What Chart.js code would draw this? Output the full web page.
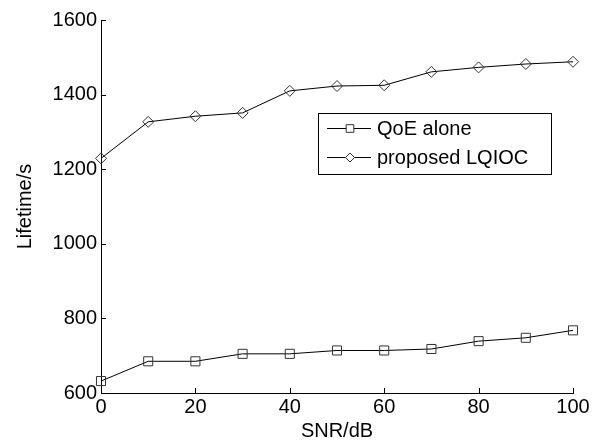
<!DOCTYPE html>
<html>
<head>
<meta charset="utf-8">
<script src="https://cdn.jsdelivr.net/npm/chart.js@4.4.1/dist/chart.umd.min.js"></script>
<style>
  html, body { margin: 0; padding: 0; background: #fff; }
</style>
</head>
<body>
<canvas id="chart" width="599" height="443"></canvas>
<script>
// values
const snr = [0, 10, 20, 30, 40, 50, 60, 70, 80, 90, 100];
const qoeAlone = [632, 685, 685, 705, 705, 714, 714, 718, 739, 748, 768];
const proposedLqioc = [1229, 1327, 1342, 1351, 1410, 1423, 1425, 1461, 1473, 1482, 1488];
const xTicks = [0, 20, 40, 60, 80, 100];
const yTicks = [600, 800, 1000, 1200, 1400, 1600];
const seriesNames = ["QoE alone", "proposed LQIOC"];

const FONT = "'Liberation Sans', Arial, sans-serif";

const toPoints = (values) => values.map((v, i) => ({x: snr[i], y: v}));

// matlab-style ticks pointing into the plot
const inwardTicks = {
  id: "inwardTicks",
  afterDatasetsDraw(chart) {
    const {ctx, chartArea, scales: {x, y}} = chart;
    ctx.save();
    ctx.strokeStyle = "#000";
    ctx.lineWidth = 1;
    ctx.beginPath();
    yTicks.forEach(v => {
      const py = Math.round(y.getPixelForValue(v)) + 0.5;
      ctx.moveTo(chartArea.left, py);
      ctx.lineTo(chartArea.left + 5, py);
    });
    xTicks.forEach(v => {
      const px = Math.round(x.getPixelForValue(v)) + 0.5;
      ctx.moveTo(px, chartArea.bottom);
      ctx.lineTo(px, chartArea.bottom - 5);
    });
    ctx.stroke();
    ctx.restore();
  }
};

// boxed legend sitting inside the plot
const boxLegend = {
  id: "boxLegend",
  afterDraw(chart) {
    const {ctx, chartArea} = chart;
    const left = chartArea.left + 217;
    const top = chartArea.top + 93;
    const w = 233, h = 61;
    ctx.save();
    ctx.fillStyle = "#fff";
    ctx.fillRect(left, top, w, h);
    ctx.strokeStyle = "#000";
    ctx.lineWidth = 1;
    ctx.strokeRect(left + 0.5, top + 0.5, w, h);
    chart.data.datasets.forEach((ds, i) => {
      const cy = top + 15 + i * 29;
      ctx.strokeStyle = ds.borderColor;
      ctx.lineWidth = 1;
      ctx.beginPath();
      ctx.moveTo(left + 9, cy + 0.5);
      ctx.lineTo(left + 53, cy + 0.5);
      ctx.stroke();
      ctx.strokeStyle = ds.pointBorderColor;
      ctx.fillStyle = "#fff";
      Chart.helpers.drawPoint(ctx, {
        pointStyle: ds.pointStyle,
        radius: ds.pointRadius - 1,
        borderWidth: 1,
        rotation: 0
      }, left + 32, cy + 0.5);
      ctx.fillStyle = "#000";
      ctx.font = "20px " + FONT;
      ctx.textBaseline = "middle";
      ctx.fillText(ds.label, left + 59, cy + 1);
    });
    ctx.restore();
  }
};

const config = {
  type: "line",
  data: {
    datasets: [{
      label: seriesNames[0],
      data: toPoints(qoeAlone),
      borderColor: "#000",
      borderWidth: 1,
      pointStyle: "rect",
      pointRadius: 6.4,
      pointBorderColor: "#333",
      pointBorderWidth: 1,
      pointBackgroundColor: "rgba(0,0,0,0)",
      tension: 0,
      clip: false
    }, {
      label: seriesNames[1],
      data: toPoints(proposedLqioc),
      borderColor: "#000",
      borderWidth: 1,
      pointStyle: "rectRot",
      pointRadius: 5.5,
      pointBorderColor: "#333",
      pointBorderWidth: 1,
      pointBackgroundColor: "rgba(0,0,0,0)",
      tension: 0,
      clip: false
    }]
  },
  options: {
    responsive: false,
    animation: false,
    layout: {padding: {left: 0, right: 26, top: 20, bottom: 0}},
    plugins: {
      legend: {display: false},
      tooltip: {enabled: false}
    },
    scales: {
      x: {
        type: "linear",
        min: 0,
        max: 100,
        afterBuildTicks: (scale) => { scale.ticks = xTicks.map(v => ({value: v})); },
        afterFit: (scale) => { scale.height = 50; },
        grid: {display: false, drawTicks: false},
        border: {display: true, color: "#000", width: 1},
        ticks: {color: "#000", font: {family: FONT, size: 20}, padding: 2, maxRotation: 0, callback: (v) => String(v)},
        title: {display: true, text: "SNR/dB", color: "#000", font: {family: FONT, size: 20}, padding: {top: 0, bottom: 0}}
      },
      y: {
        min: 600,
        max: 1600,
        afterBuildTicks: (scale) => { scale.ticks = yTicks.map(v => ({value: v})); },
        afterFit: (scale) => { scale.width = 101; },
        grid: {display: false, drawTicks: false},
        border: {display: true, color: "#000", width: 1},
        ticks: {color: "#000", font: {family: FONT, size: 20}, padding: 4, callback: (v) => String(v)},
        title: {display: true, text: "Lifetime/s", color: "#000", font: {family: FONT, size: 20}, padding: {top: 13, bottom: 0}}
      }
    }
  },
  plugins: [inwardTicks, boxLegend]
};

new Chart(document.getElementById("chart"), config);
</script>
</body>
</html>
